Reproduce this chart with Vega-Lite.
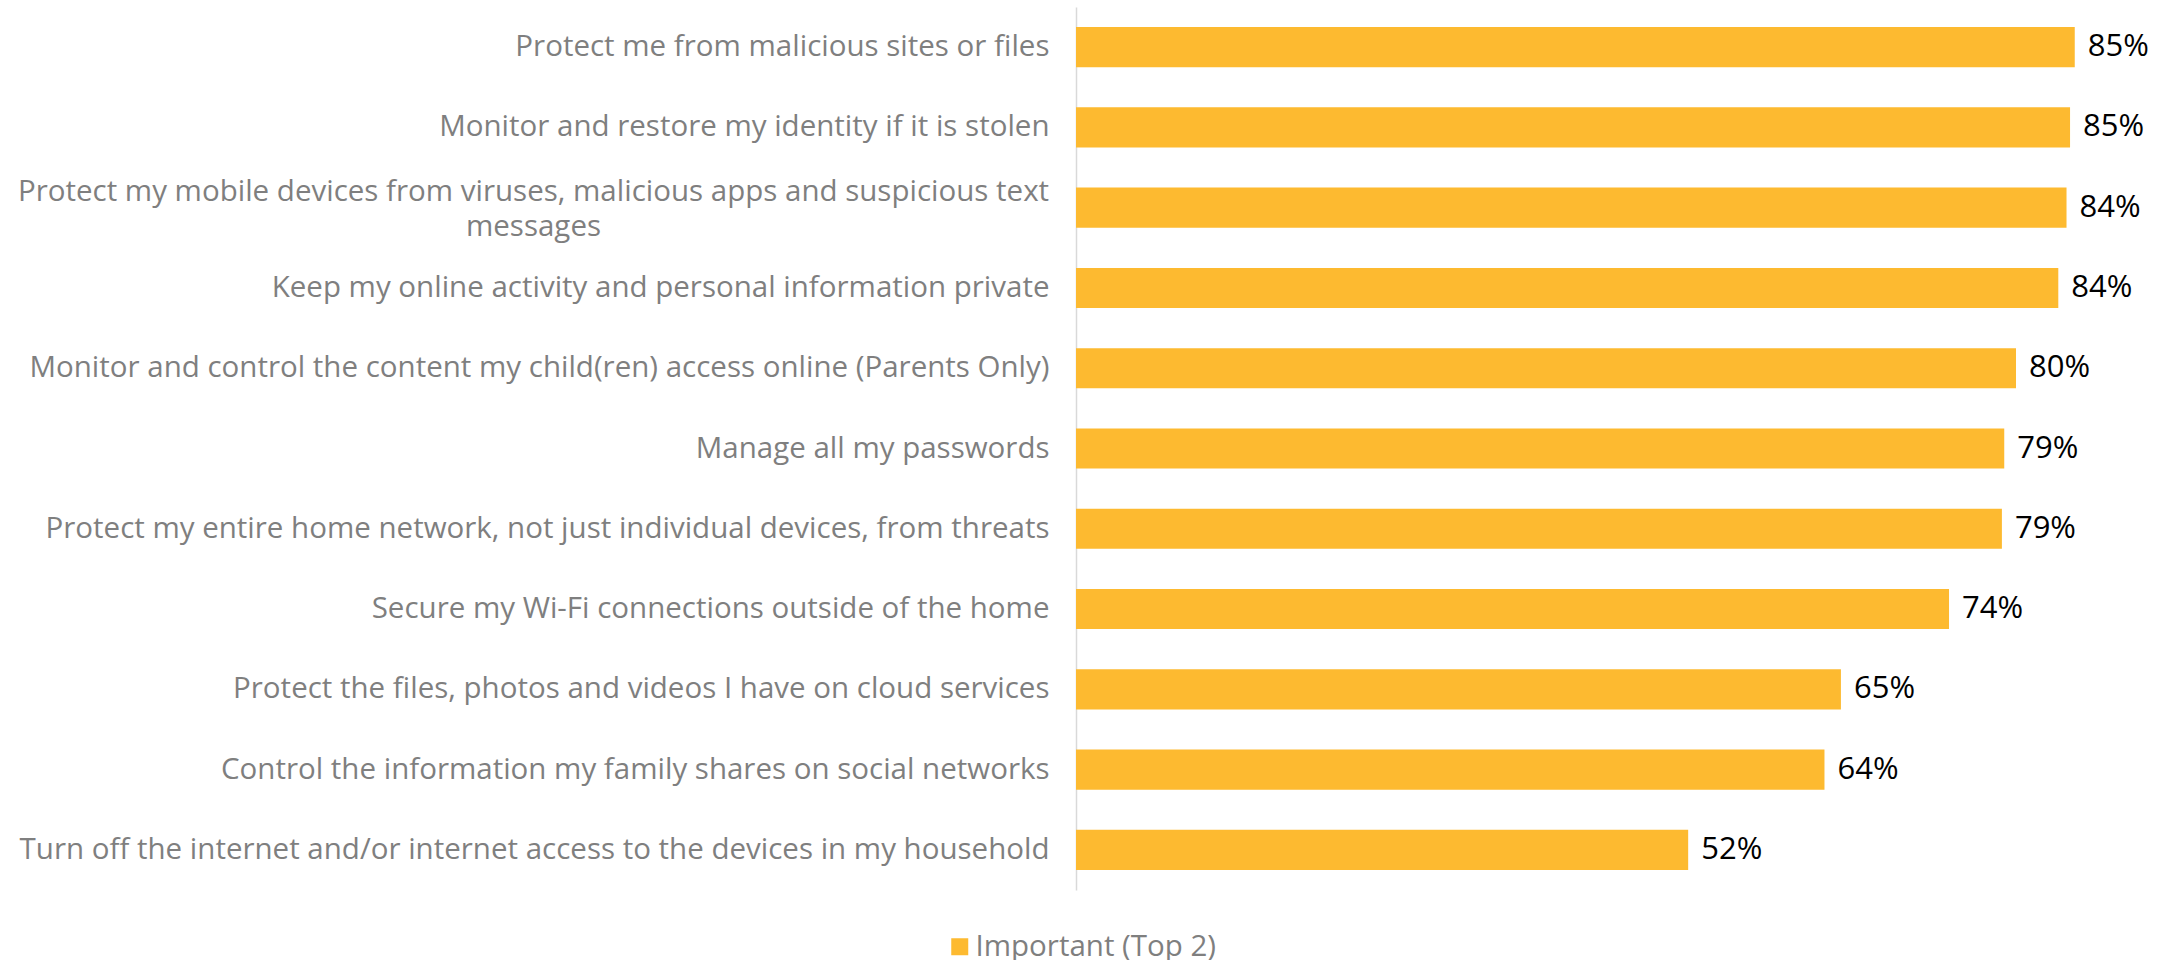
{
  "$schema": "https://vega.github.io/schema/vega-lite/v6.json",
  "autosize": "none",
  "width": 1081,
  "height": 883,
  "padding": {"left": 1076, "top": 7, "right": 15, "bottom": 70},
  "background": "white",
  "config": {"view": {"stroke": null}, "font": "Open Sans"},
  "data": {
    "values": [
      {"item": "Protect me from malicious sites or files", "value": 0.850, "series": "Important (Top 2)"},
      {"item": "Monitor and restore my identity if it is stolen", "value": 0.846, "series": "Important (Top 2)"},
      {"item": "Protect my mobile devices from viruses, malicious apps and suspicious text messages", "value": 0.843, "series": "Important (Top 2)"},
      {"item": "Keep my online activity and personal information private", "value": 0.836, "series": "Important (Top 2)"},
      {"item": "Monitor and control the content my child(ren) access online (Parents Only)", "value": 0.800, "series": "Important (Top 2)"},
      {"item": "Manage all my passwords", "value": 0.790, "series": "Important (Top 2)"},
      {"item": "Protect my entire home network, not just individual devices, from threats", "value": 0.788, "series": "Important (Top 2)"},
      {"item": "Secure my Wi-Fi connections outside of the home", "value": 0.743, "series": "Important (Top 2)"},
      {"item": "Protect the files, photos and videos I have on cloud services", "value": 0.651, "series": "Important (Top 2)"},
      {"item": "Control the information my family shares on social networks", "value": 0.637, "series": "Important (Top 2)"},
      {"item": "Turn off the internet and/or internet access to the devices in my household", "value": 0.521, "series": "Important (Top 2)"}
    ]
  },
  "encoding": {
    "y": {
      "field": "item",
      "type": "nominal",
      "sort": null,
      "scale": {"paddingInner": 0.5, "paddingOuter": 0.25},
      "axis": {
        "title": null,
        "ticks": false,
        "domain": true,
        "domainColor": "#d9d9d9",
        "domainWidth": 1.5,
        "labelFont": "Open Sans",
        "labelFontSize": 29.5,
        "labelColor": "#7f7f7f",
        "labelLimit": 1100,
        "labelLineHeight": 35,
        "labelOffset": {"condition": {"test": "datum.value == 'Protect my mobile devices from viruses, malicious apps and suspicious text messages'", "value": -16}, "value": 0},
        "labelPadding": {"condition": {"test": "datum.value == 'Protect my mobile devices from viruses, malicious apps and suspicious text messages'", "value": 543}, "value": 27},
        "labelAlign": {"condition": {"test": "datum.value == 'Protect my mobile devices from viruses, malicious apps and suspicious text messages'", "value": "center"}, "value": "right"},
        "labelExpr": "datum.value == 'Protect my mobile devices from viruses, malicious apps and suspicious text messages' ? ['Protect my mobile devices from viruses, malicious apps and suspicious text', 'messages'] : datum.label"
      }
    },
    "x": {
      "field": "value",
      "type": "quantitative",
      "scale": {"domain": [0, 0.92], "nice": false},
      "axis": null
    }
  },
  "layer": [
    {
      "mark": {"type": "bar"},
      "encoding": {
        "color": {
          "field": "series",
          "type": "nominal",
          "scale": {"range": ["#FDBA30"]},
          "legend": {
            "title": null,
            "orient": "none",
            "legendX": -131,
            "legendY": 925,
            "symbolType": "square",
            "symbolSize": 289,
            "symbolStrokeWidth": 0,
            "labelFont": "Open Sans",
            "labelFontSize": 29.5,
            "labelColor": "#7f7f7f",
            "labelOffset": 1,
            "labelLimit": 400
          }
        }
      }
    },
    {
      "mark": {"type": "text", "align": "left", "baseline": "middle", "dx": 13, "fontSize": 31, "font": "Open Sans", "color": "#000000"},
      "encoding": {
        "text": {"field": "value", "type": "quantitative", "format": ".0%"}
      }
    }
  ]
}
